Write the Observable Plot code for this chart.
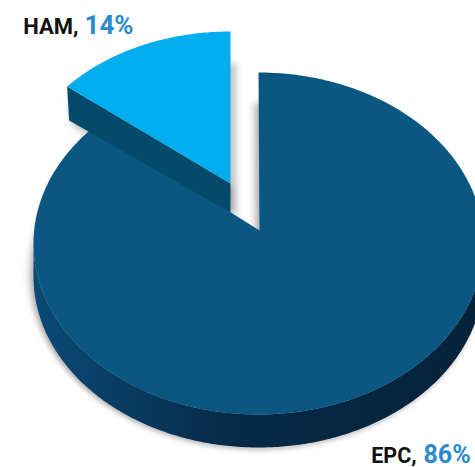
<!DOCTYPE html>
<html>
<head>
<meta charset="utf-8">
<script src="https://cdn.jsdelivr.net/npm/d3@7"></script>
<script src="https://cdn.jsdelivr.net/npm/@observablehq/plot@0.6"></script>
<style>
html,body{margin:0;padding:0;background:#fff;overflow:hidden}
svg{display:block}
</style>
</head>
<body>
<div id="chart"></div>
<script>
const categories = ["HAM", "EPC"];
const shares = [14, 86];

const TAU = 2 * Math.PI;
const arcs = d3.pie().sort(null)
  .startAngle(-TAU * shares[0] / 100)
  .endAngle(TAU * shares[1] / 100)(shares);
const [hamArc, epcArc] = arcs;

const pt = (g, a, dy = 0) => ({x: g.cx + g.rx * Math.sin(a), y: g.cy - g.ry * Math.cos(a) + dy});
const sweep = (a0, a1, g, dy = 0) => {
  const n = Math.max(2, Math.ceil(Math.abs(a1 - a0) * 90));
  return d3.range(n + 1).map(i => pt(g, a0 + (a1 - a0) * i / n, dy));
};

const epcG = {cx: 258, cy: 243, rx: 225, ry: 171, ax: 259, ay: 230, depth: 33, tuck: 0.06};
const hamG = {cx: 230, cy: 183, rx: 212, ry: 152, ax: 230, ay: 183, depth: 29};

const epcTop = [{x: epcG.ax, y: epcG.ay}, ...sweep(epcArc.startAngle, epcArc.endAngle + epcG.tuck, epcG)];
const epcSide = [...sweep(Math.PI / 2, 3 * Math.PI / 2, epcG),
                 ...sweep(3 * Math.PI / 2, Math.PI / 2, epcG, epcG.depth)];
const epcBody = [{x: epcG.ax, y: epcG.ay}, ...sweep(epcArc.startAngle, epcArc.endAngle, epcG, epcG.depth)];

const hamTop = [{x: hamG.ax, y: hamG.ay}, ...sweep(hamArc.startAngle, hamArc.endAngle, hamG)];
const hamLeft = pt(hamG, hamArc.startAngle);
const hamSide = [hamLeft, {x: hamG.ax, y: hamG.ay},
                 {x: hamG.ax, y: hamG.ay + hamG.depth},
                 {x: hamLeft.x + 2, y: hamLeft.y + hamG.depth + 5}];

const shape = (rows, fill, extra = {}) =>
  Plot.line(rows, {x: "x", y: "y", fill, stroke: "none", curve: "linear", ...extra});

const label = (x, y, text, anchor, size, fill) =>
  Plot.text([text], {x: () => x, y: () => y, text: d => d, textAnchor: anchor, lineAnchor: "bottom",
    fontFamily: "Roboto", fontWeight: 700, fontSize: size, fill});

const gradient = () => {
  const ns = "http://www.w3.org/2000/svg";
  const defs = document.createElementNS(ns, "defs");
  defs.innerHTML = `<linearGradient id="epcSideFill" gradientUnits="userSpaceOnUse" x1="33" y1="0" x2="475" y2="0">
    <stop offset="0" stop-color="#0a4a76"/>
    <stop offset="0.2" stop-color="#083c62"/>
    <stop offset="0.45" stop-color="#062a47"/>
    <stop offset="1" stop-color="#05223a"/>
  </linearGradient>`;
  return defs;
};

const plot = Plot.plot({
  width: 475, height: 467, margin: 0,
  x: {domain: [0, 475], range: [0, 475], axis: null},
  y: {domain: [0, 467], range: [0, 467], axis: null},
  marks: [
    gradient,
    shape(hamTop, "#777", {dx: 6, dy: 32, imageFilter: "blur(3px)", fillOpacity: 0.42}),
    shape(hamSide, "#777", {dx: 2, dy: 5, imageFilter: "blur(3px)", fillOpacity: 0.42}),
    shape(epcTop, "#777", {dx: -5, dy: 30, imageFilter: "blur(3px)", fillOpacity: 0.42}),
    shape(epcBody, "#999", {dx: -1, dy: 3, imageFilter: "blur(2px)", fillOpacity: 0.5}),
    shape(epcSide, "url(#epcSideFill)"),
    shape(epcTop, "#0a5782"),
    shape(hamSide, "#034a6b"),
    shape(hamTop, "#00aeef"),
    label(78, 33, categories[0] + ",", "end", 22, "#111"),
    label(84, 33, shares[0] + "%", "start", 26, "#2a8acb"),
    label(416, 462, categories[1] + ",", "end", 21.5, "#111"),
    label(423, 462, shares[1] + "%", "start", 25, "#2a8acb")
  ]
});
document.getElementById("chart").append(plot);
</script>
</body>
</html>
